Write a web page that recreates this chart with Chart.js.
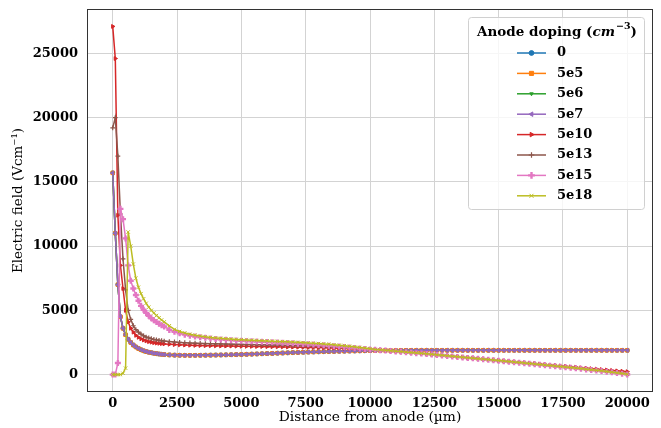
<!DOCTYPE html>
<html>
<head>
<meta charset="utf-8">
<script src="https://cdn.jsdelivr.net/npm/chart.js@4/dist/chart.umd.min.js"></script>
<style>
html,body{margin:0;padding:0;background:#fff;}
canvas{display:block;}
</style>
</head>
<body>
<canvas id="c" width="661" height="428"></canvas>
<script>
// ---------- DATA ----------
const seriesLabels = ['0','5e5','5e6','5e7','5e10','5e13','5e15','5e18'];
const xTickValues = [0,2500,5000,7500,10000,12500,15000,17500,20000];
const yTickValues = [0,5000,10000,15000,20000,25000];

const dist = [
 0,100,200,300,400,500,600,700,800,900,1000,1100,1200,1300,1400,1500,1600,1700,1800,1900,2000,
 2200,2400,2600,2800,3000,3200,3400,3600,3800,4000,
 4200,4400,4600,4800,5000,5200,5400,5600,5800,6000,
 6200,6400,6600,6800,7000,7200,7400,7600,7800,8000,
 8200,8400,8600,8800,9000,9200,9400,9600,9800,10000,
 10200,10400,10600,10800,11000,11200,11400,11600,11800,12000,
 12200,12400,12600,12800,13000,13200,13400,13600,13800,14000,
 14200,14400,14600,14800,15000,15200,15400,15600,15800,16000,
 16200,16400,16600,16800,17000,17200,17400,17600,17800,18000,
 18200,18400,18600,18800,19000,19200,19400,19600,19800,20000
];

// doping 0, 5e5, 5e6, 5e7 (visually identical curves)
const fieldLowDoping = [
 15700,11000,7000,4500,3600,3100,2750,2500,2300,2150,2030,1930,1850,1790,1740,1700,1660,1630,1600,1580,1560,
 1530,1515,1505,1500,1498,1500,1503,1508,1514,1520,
 1528,1536,1545,1555,1565,1578,1592,1606,1620,1635,
 1650,1665,1680,1695,1710,1724,1738,1751,1763,1775,
 1786,1796,1806,1815,1824,1832,1840,1848,1855,1862,
 1868,1873,1877,1880,1882,1884,1885,1886,1887,1888,
 1890,1890,1890,1890,1890,1890,1890,1890,1890,1890,
 1890,1890,1890,1890,1890,1890,1890,1890,1890,1890,
 1890,1890,1890,1890,1890,1890,1890,1890,1890,1890,
 1890,1890,1890,1890,1890,1890,1890,1890,1890,1890
];
// doping 5e10
const field5e10 = [
 27100,24600,12400,8500,6700,5000,4100,3600,3300,3050,2900,2780,2690,2620,2560,2520,2480,2450,2430,2410,2390,
 2360,2335,2315,2300,2285,2272,2262,2252,2244,2237,
 2230,2224,2218,2212,2206,2200,2194,2188,2182,2176,
 2170,2163,2156,2149,2142,2134,2126,2118,2110,2100,
 2090,2079,2068,2056,2044,2031,2018,2004,1990,1975,
 1955,1922,1889,1855,1821,1788,1754,1720,1686,1652,
 1615,1578,1540,1502,1465,1429,1393,1356,1320,1283,
 1246,1209,1172,1135,1098,1062,1026,990,955,920,
 885,850,815,780,745,710,675,640,605,570,
 535,500,465,430,395,360,325,290,260,230
];
// doping 5e13
const field5e13 = [
 19200,20000,17000,12500,9000,6600,5000,4300,3800,3500,3300,3150,3020,2920,2850,2790,2740,2700,2670,2640,2610,
 2570,2535,2505,2480,2460,2442,2427,2414,2402,2392,
 2383,2374,2365,2357,2349,2341,2333,2325,2317,2309,
 2300,2291,2282,2272,2262,2251,2240,2228,2216,2203,
 2180,2160,2140,2118,2095,2072,2048,2022,1995,1965,
 1940,1908,1875,1842,1809,1776,1742,1708,1674,1640,
 1603,1566,1529,1492,1455,1418,1381,1344,1307,1270,
 1233,1196,1159,1122,1085,1048,1011,974,937,900,
 862,824,786,748,710,671,632,593,554,515,
 473,431,389,347,305,260,215,170,120,70
];
// doping 5e15
const field5e15 = [
 0,0,900,12900,12100,10600,8500,7300,6700,6200,5750,5350,5050,4800,4580,4390,4230,4090,3960,3850,3750,
 3480,3330,3210,3110,3030,2965,2910,2860,2815,2775,
 2740,2708,2680,2655,2632,2610,2590,2570,2550,2530,
 2510,2490,2470,2450,2430,2408,2385,2360,2334,2306,
 2277,2246,2214,2180,2145,2109,2072,2034,1995,1960,
 1932,1900,1868,1835,1802,1769,1736,1702,1668,1634,
 1597,1560,1523,1486,1449,1412,1375,1338,1301,1263,
 1225,1187,1149,1111,1073,1035,997,959,921,883,
 845,807,769,731,693,653,613,573,533,493,
 449,405,361,317,273,224,174,124,70,10
];
// doping 5e18
const field5e18 = [
 0,0,0,0,100,500,11100,10000,8600,7500,6800,6300,5900,5550,5250,5000,4800,4600,4420,4250,4100,
 3800,3520,3360,3240,3140,3060,2995,2940,2895,2855,
 2820,2790,2763,2738,2715,2694,2674,2655,2637,2620,
 2602,2584,2566,2548,2530,2510,2490,2468,2445,2420,
 2390,2358,2323,2285,2245,2202,2158,2112,2064,2015,
 1958,1925,1892,1858,1824,1790,1756,1722,1688,1654,
 1616,1578,1540,1502,1464,1428,1392,1355,1318,1280,
 1242,1204,1166,1128,1090,1052,1014,976,938,900,
 862,824,786,748,710,670,630,590,550,510,
 466,422,378,334,290,240,190,140,85,30
];

const seriesValues = [fieldLowDoping, fieldLowDoping, fieldLowDoping, fieldLowDoping,
                      field5e10, field5e13, field5e15, field5e18];

// ---------- STYLES ----------
const colors = ['#1f77b4','#ff7f0e','#2ca02c','#9467bd','#d62728','#8c564b','#e377c2','#bcbd22'];
const markers = [
  {pointStyle:'circle', radius:2, rotation:0, borderWidth:1},
  {pointStyle:'rect', radius:2.5, rotation:0, borderWidth:1},
  {pointStyle:'triangle', radius:1.6, rotation:180, borderWidth:1},
  {pointStyle:'triangle', radius:2.2, rotation:-90, borderWidth:1},
  {pointStyle:'triangle', radius:2.2, rotation:90, borderWidth:1},
  {pointStyle:'cross', radius:2.4, rotation:0, borderWidth:1.2},
  {pointStyle:'cross', radius:3, rotation:0, borderWidth:2.4},
  {pointStyle:'crossRot', radius:2.4, rotation:0, borderWidth:1}
];
const FONT = '"DejaVu Serif", "Liberation Serif", serif';

const datasets = seriesLabels.map((lab, i) => ({
  label: lab,
  order: seriesLabels.length - i,
  data: dist.map((x, j) => ({x: x, y: seriesValues[i][j]})),
  borderColor: colors[i],
  backgroundColor: colors[i],
  pointBackgroundColor: colors[i],
  pointBorderColor: colors[i],
  pointStyle: markers[i].pointStyle,
  pointRadius: markers[i].radius,
  pointRotation: markers[i].rotation,
  pointBorderWidth: markers[i].borderWidth,
  borderWidth: 1.5,
  tension: 0,
  fill: false
}));

const framePlugin = {
  id: 'frame',
  afterDatasetsDraw(chart) {
    const {ctx, chartArea: a} = chart;
    ctx.save();
    ctx.strokeStyle = '#333333';
    ctx.lineWidth = 1;
    ctx.strokeRect(Math.round(a.left) + 0.5, Math.round(a.top) + 0.5,
                   Math.round(a.right - a.left) - 1, Math.round(a.bottom - a.top) - 1);
    ctx.restore();
  }
};

const legendPlugin = {
  id: 'mplLegend',
  afterDraw(chart) {
    const ctx = chart.ctx;
    ctx.save();
    const x0 = 468.5, y0 = 17.5, w = 176, h = 192, r = 3;
    ctx.beginPath();
    ctx.moveTo(x0 + r, y0);
    ctx.lineTo(x0 + w - r, y0); ctx.quadraticCurveTo(x0 + w, y0, x0 + w, y0 + r);
    ctx.lineTo(x0 + w, y0 + h - r); ctx.quadraticCurveTo(x0 + w, y0 + h, x0 + w - r, y0 + h);
    ctx.lineTo(x0 + r, y0 + h); ctx.quadraticCurveTo(x0, y0 + h, x0, y0 + h - r);
    ctx.lineTo(x0, y0 + r); ctx.quadraticCurveTo(x0, y0, x0 + r, y0);
    ctx.closePath();
    ctx.fillStyle = 'rgba(255,255,255,0.8)';
    ctx.fill();
    ctx.strokeStyle = '#d0d0d0';
    ctx.lineWidth = 1;
    ctx.stroke();

    // title: Anode doping (cm^-3)
    ctx.fillStyle = '#000';
    ctx.textBaseline = 'middle';
    ctx.textAlign = 'left';
    const fB = 'bold 13.5px ' + FONT, fI = 'italic bold 13.5px ' + FONT, fS = 'bold 9.5px ' + FONT;
    const parts = [['Anode doping (', fB, 0], ['cm', fI, 0], ['\u22123', fS, -5], [')', fB, 0]];
    let total = 0;
    parts.forEach(p => { ctx.font = p[1]; total += ctx.measureText(p[0]).width; });
    let tx = 556.5 - total / 2;
    const ty = 32;
    parts.forEach(p => {
      ctx.font = p[1];
      ctx.fillText(p[0], tx, ty + p[2]);
      tx += ctx.measureText(p[0]).width + (p[0] === 'cm' ? 1 : 0);
    });

    // entries
    chart.data.datasets.forEach((ds, i) => {
      const y = 53 + i * 20.4;
      ctx.strokeStyle = colors[i];
      ctx.lineWidth = 1.5;
      ctx.beginPath();
      ctx.moveTo(517, y); ctx.lineTo(546, y);
      ctx.stroke();
      ctx.fillStyle = colors[i];
      ctx.strokeStyle = colors[i];
      ctx.lineWidth = markers[i].borderWidth;
      Chart.helpers.drawPoint(ctx, {
        pointStyle: markers[i].pointStyle,
        radius: markers[i].radius + 0.4,
        rotation: markers[i].rotation,
        borderWidth: markers[i].borderWidth
      }, 531.5, y);
      ctx.fillStyle = '#000';
      ctx.font = 'bold 13px ' + FONT;
      ctx.textAlign = 'left';
      ctx.textBaseline = 'middle';
      ctx.fillText(ds.label, 557, y);
    });
    ctx.restore();
  }
};

new Chart(document.getElementById('c'), {
  type: 'line',
  data: { datasets: datasets },
  options: {
    responsive: false,
    animation: false,
    devicePixelRatio: 1,
    layout: { padding: { left: 0, right: 8, top: 9, bottom: 0 } },
    plugins: { legend: { display: false }, tooltip: { enabled: false } },
    scales: {
      x: {
        type: 'linear',
        min: -1000, max: 21000,
        afterBuildTicks: (axis) => { axis.ticks = xTickValues.map(v => ({value: v})); },
        afterFit: (axis) => { axis.height = 36; axis.paddingLeft = 0; axis.paddingRight = 0; },
        ticks: {
          callback: (v) => String(v),
          color: '#000',
          font: { family: FONT, size: 13, weight: 'bold' },
          padding: 4, maxRotation: 0, autoSkip: false
        },
        grid: { color: '#d3d3d3', lineWidth: 1, drawTicks: false },
        border: { display: false },
        title: {
          display: true, text: 'Distance from anode (\u00b5m)', color: '#000',
          font: { family: FONT, size: 13.8, weight: 'normal' },
          padding: { top: 0, bottom: 2 }
        }
      },
      y: {
        type: 'linear',
        min: -1355, max: 28455,
        afterBuildTicks: (axis) => { axis.ticks = yTickValues.map(v => ({value: v})); },
        afterFit: (axis) => { axis.width = 87; axis.paddingTop = 0; axis.paddingBottom = 0; },
        ticks: {
          callback: (v) => String(v),
          color: '#000',
          font: { family: FONT, size: 13, weight: 'bold' },
          padding: 9, autoSkip: false
        },
        grid: { color: '#d3d3d3', lineWidth: 1, drawTicks: false },
        border: { display: false },
        title: {
          display: true, text: 'Electric field (Vcm\u207b\u00b9)', color: '#000',
          font: { family: FONT, size: 13.5, weight: 'normal' },
          padding: { top: 10, bottom: 0 }
        }
      }
    }
  },
  plugins: [framePlugin, legendPlugin]
});
</script>
</body>
</html>
